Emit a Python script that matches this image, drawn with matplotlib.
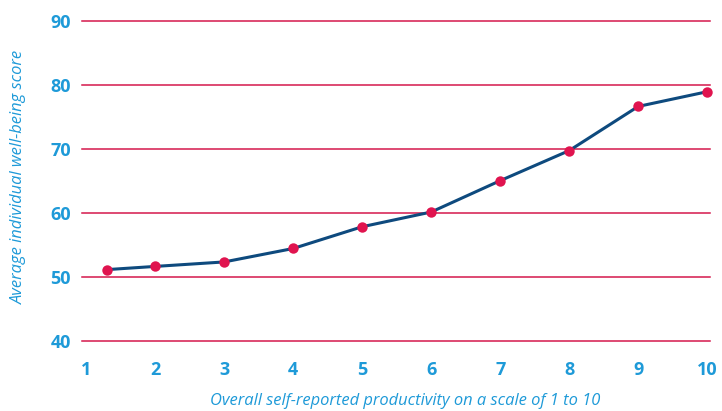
import matplotlib
matplotlib.use("Agg")
import matplotlib.pyplot as plt

productivity = [1.3, 2, 3, 4, 5, 6, 7, 8, 9, 10]
wellbeing = [51.2, 51.7, 52.4, 54.5, 57.9, 60.2, 65.1, 69.8, 76.7, 79.0]
x_ticks = [1, 2, 3, 4, 5, 6, 7, 8, 9, 10]
y_ticks = [40, 50, 60, 70, 80, 90]

TEXT = "#1e9ad8"
GRID = "#d4184c"
LINE = "#0e4a7e"
MARK = "#e0144f"

plt.rcParams['font.family'] = ['Open Sans', 'DejaVu Sans']

fig = plt.figure(figsize=(7.22, 4.11), dpi=100)
ax = fig.add_axes([82/722, (411-344.5)/411, (710-82)/722, (344.5-18.1)/411])

for y in y_ticks:
    ax.axhline(y, color=GRID, lw=1.1, zorder=1)

ax.plot(productivity, wellbeing, color=LINE, lw=2.2, zorder=2,
        solid_capstyle='round', solid_joinstyle='round')
ax.plot(productivity, wellbeing, 'o', color=MARK, ms=7.5, zorder=3, mec='none')

ax.set_xlim(0.94, 10.04)
ax.set_ylim(39.5, 90.5)
ax.set_xticks(x_ticks)
ax.set_yticks(y_ticks)
ax.tick_params(length=0, labelsize=13, labelcolor=TEXT)
ax.tick_params(axis='x', pad=12)
ax.tick_params(axis='y', pad=8)
for lab in ax.get_xticklabels() + ax.get_yticklabels():
    lab.set_fontweight('bold')
for s in ax.spines.values():
    s.set_visible(False)
for line in ax.lines:
    line.set_clip_on(False)

fig.text(405/722, 1 - 401/411, "Overall self-reported productivity on a scale of 1 to 10",
         ha='center', va='center', style='italic', color=TEXT, fontsize=11.9)
fig.text(19/722, 1 - 177/411, "Average individual well-being score",
         ha='center', va='center', style='italic', color=TEXT, fontsize=11.9, rotation=90)

fig.savefig("out.png", dpi=100)
